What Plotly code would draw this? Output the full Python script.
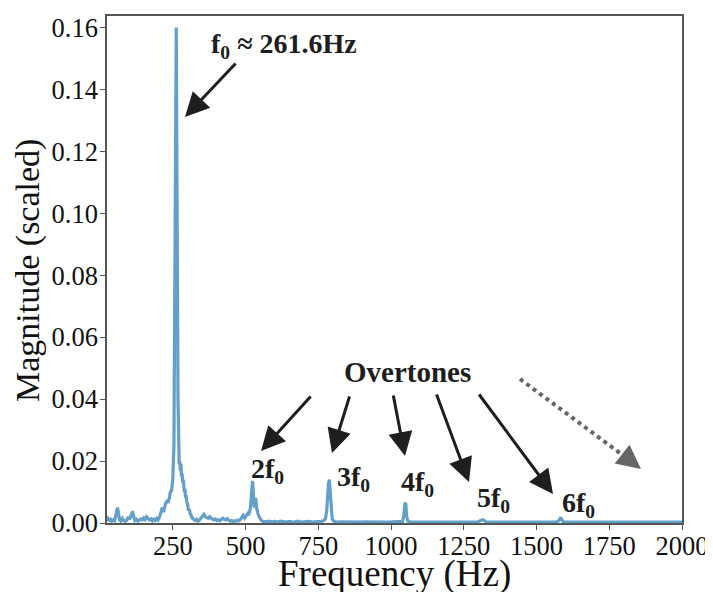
import plotly.graph_objects as go

# Spectrum (frequency in Hz, magnitude scaled)
freq_low = [24, 28, 32, 36, 40, 45, 50, 55, 60, 63, 67, 72, 77, 82, 87, 92, 97, 102, 108, 112,
            116, 120, 125, 130, 135, 140, 145, 150, 155, 160, 165, 170, 175, 180, 185, 190, 195,
            200, 205, 210, 214, 218, 222, 226, 230, 234, 238, 242, 246, 250, 254, 257, 259, 262,
            264, 266, 268, 270, 272, 274, 276, 278, 280, 282, 284, 286, 288, 290, 292, 294, 296,
            298, 301, 304, 307, 310, 314, 318, 322, 327, 332, 337, 342, 347, 352, 357, 362, 367,
            372, 377, 382, 387, 392, 397, 402, 407, 412, 417, 422, 427, 432, 437, 442, 447, 452,
            457, 462, 467, 472, 477, 482, 487, 492, 497, 502, 507, 510, 514, 517, 520, 522, 524,
            526, 528, 530, 532, 534, 536, 538, 540, 543, 547, 551, 555, 560]
mag_low = [0.0022, 0.0010, 0.0008, 0.0012, 0.0006, 0.0010, 0.0007, 0.0025, 0.0050, 0.0035,
           0.0010, 0.0006, 0.0015, 0.0008, 0.0005, 0.0009, 0.0020, 0.0012, 0.0030, 0.0038,
           0.0020, 0.0008, 0.0012, 0.0006, 0.0009, 0.0013, 0.0010, 0.0016, 0.0011, 0.0020,
           0.0015, 0.0010, 0.0013, 0.0007, 0.0012, 0.0008, 0.0015, 0.0010, 0.0020, 0.0040,
           0.0050, 0.0035, 0.0055, 0.0065, 0.0070, 0.0065, 0.0080, 0.0100, 0.0105, 0.0140,
           0.0250, 0.0600, 0.1100, 0.1600, 0.1350, 0.0800, 0.0400, 0.0250, 0.0190, 0.0200,
           0.0170, 0.0190, 0.0150, 0.0160, 0.0130, 0.0140, 0.0120, 0.0100, 0.0110, 0.0080,
           0.0090, 0.0070, 0.0060, 0.0040, 0.0045, 0.0030, 0.0020, 0.0015, 0.0012, 0.0008,
           0.0012, 0.0006, 0.0010, 0.0016, 0.0023, 0.0028, 0.0020, 0.0017, 0.0015, 0.0020,
           0.0014, 0.0012, 0.0010, 0.0013, 0.0008, 0.0010, 0.0007, 0.0011, 0.0015, 0.0012,
           0.0010, 0.0014, 0.0009, 0.0006, 0.0008, 0.0005, 0.0007, 0.0006, 0.0009, 0.0007,
           0.0011, 0.0018, 0.0025, 0.0016, 0.0022, 0.0030, 0.0025, 0.0035, 0.0050, 0.0090,
           0.0120, 0.0136, 0.0110, 0.0070, 0.0050, 0.0060, 0.0080, 0.0075, 0.0050, 0.0040,
           0.0030, 0.0020, 0.0012, 0.0008, 0.0005]

freq_high = [570, 580, 590, 600, 610, 620, 630, 640, 650, 660, 670, 680, 690, 700, 710, 720, 730,
             740, 750, 760, 770, 775, 779, 782, 785, 788, 791, 794, 798, 805, 815, 830, 850, 870,
             890, 910, 930, 950, 970, 990, 1010, 1030, 1040, 1044, 1048, 1051, 1054, 1058, 1065,
             1080, 1100, 1130, 1160, 1190, 1220, 1250, 1280, 1298, 1306, 1312, 1316, 1320, 1326,
             1340, 1370, 1400, 1430, 1460, 1490, 1520, 1550, 1570, 1577, 1581, 1584, 1587, 1592,
             1600, 1630, 1670, 1710, 1750, 1800, 1850, 1900, 1950, 2000]
mag_high = [0.0004, 0.0006, 0.0004, 0.0005, 0.0003, 0.0006, 0.0004, 0.0003, 0.0005, 0.0003,
            0.0004, 0.0006, 0.0003, 0.0004, 0.0003, 0.0005, 0.0003, 0.0004, 0.0003, 0.0005,
            0.0008, 0.0015, 0.0040, 0.0090, 0.0125, 0.0140, 0.0100, 0.0040, 0.0012, 0.0005,
            0.0003, 0.0004, 0.0003, 0.0004, 0.0003, 0.0004, 0.0003, 0.0004, 0.0003, 0.0003,
            0.0003, 0.0004, 0.0005, 0.0025, 0.0066, 0.0060, 0.0020, 0.0006, 0.0003, 0.0003,
            0.0003, 0.0003, 0.0003, 0.0003, 0.0003, 0.0003, 0.0003, 0.0004, 0.0007, 0.0010,
            0.0011, 0.0008, 0.0004, 0.0003, 0.0003, 0.0003, 0.0003, 0.0003, 0.0003, 0.0003,
            0.0003, 0.0004, 0.0008, 0.0016, 0.0018, 0.0010, 0.0004, 0.0003, 0.0003, 0.0003,
            0.0003, 0.0003, 0.0003, 0.0003, 0.0003, 0.0003, 0.0003]

frequencies = freq_low + freq_high
magnitudes = mag_low + mag_high

x_ticks = [250, 500, 750, 1000, 1250, 1500, 1750, 2000]
y_ticks = [0.00, 0.02, 0.04, 0.06, 0.08, 0.10, 0.12, 0.14, 0.16]
y_tick_labels = ["0.00", "0.02", "0.04", "0.06", "0.08", "0.10", "0.12", "0.14", "0.16"]

X0, X1 = 24, 2000
Y0, Y1 = 0.0, 0.1637

fig = go.Figure()
fig.add_trace(go.Scatter(x=frequencies, y=magnitudes, mode="lines",
                         line=dict(color="#62A0CA", width=3.2), showlegend=False))

SERIF = "Liberation Serif, Times New Roman, serif"
OFF = 8  # page body margin
W, H = 713 - OFF, 592 - OFF
# plot area in screen pixels
SL, SR, ST, SB = 107, 682, 16, 523
L, R, T, B = SL - OFF, W - (SR - OFF), ST - OFF, H - (SB - OFF)
pw, ph = SR - SL, SB - ST


def px2x(px):
    return X0 + (px - SL) / pw * (X1 - X0)


def py2y(py):
    return Y0 + (SB - py) / ph * (Y1 - Y0)


def px2paper(px):
    return (px - SL) / pw


def py2paper(py):
    return (SB - py) / ph


anns = []


def arrow(tail, head, color="#1e1e1e"):
    anns.append(dict(x=px2x(head[0]), y=py2y(head[1]), ax=px2x(tail[0]), ay=py2y(tail[1]),
                     xref="x", yref="y", axref="x", ayref="y", text="", showarrow=True,
                     arrowhead=2, arrowsize=1.6, arrowwidth=3, arrowcolor=color))


def label(txt, cx, cy, size=28):
    anns.append(dict(x=px2x(cx), y=py2y(cy), xref="x", yref="y", text="<b>" + txt + "</b>",
                     showarrow=False, font=dict(family=SERIF, size=size, color="#1e1e1e"),
                     xanchor="center", yanchor="middle"))


label("f<sub>0</sub> ≈ 261.6Hz", 284, 45, 28)
arrow((237, 62), (185, 117))
label("Overtones", 407, 372, 29)
arrow((312, 395), (261, 451))
arrow((350, 395), (332, 453))
arrow((393, 394), (405, 456))
arrow((436, 393), (469, 482))
arrow((478, 393), (553, 494))
label("2f<sub>0</sub>", 267, 470)
label("3f<sub>0</sub>", 353, 478)
label("4f<sub>0</sub>", 417, 483)
label("5f<sub>0</sub>", 493, 499)
label("6f<sub>0</sub>", 578, 504)

# axis titles as paper annotations
anns.append(dict(x=px2paper(394), y=py2paper(597), xref="paper", yref="paper",
                 text="Frequency (Hz)", showarrow=False, xanchor="center", yanchor="bottom",
                 font=dict(family=SERIF, size=37, color="#111111")))
anns.append(dict(x=px2paper(7), y=py2paper(271), xref="paper", yref="paper",
                 text="Magnitude (scaled)", showarrow=False, textangle=-90,
                 xanchor="left", yanchor="middle",
                 font=dict(family=SERIF, size=34, color="#111111")))

fig.update_layout(annotations=anns)
# dotted grey arrow: dotted shaft plus arrow head
fig.add_shape(type="line", xref="x", yref="y", x0=px2x(520), y0=py2y(379),
              x1=px2x(628), y1=py2y(459), line=dict(color="#666666", width=4, dash="dot"))
fig.add_annotation(x=px2x(641), y=py2y(469), ax=px2x(627), ay=py2y(458), xref="x", yref="y",
                   axref="x", ayref="y", text="", showarrow=True, arrowhead=2, arrowsize=1.6,
                   arrowwidth=3, arrowcolor="#666666")

axis_common = dict(showline=True, linecolor="#555555", linewidth=1.5, mirror=True,
                   ticks="outside", ticklen=5, tickwidth=1.2, tickcolor="#555555",
                   showgrid=False, zeroline=False, automargin=False,
                   tickfont=dict(family=SERIF, size=26.5, color="#111111"))

fig.update_xaxes(range=[X0, X1], tickvals=x_ticks, ticklabelstandoff=-7, **axis_common)
fig.update_yaxes(range=[Y0, Y1], tickvals=y_ticks, ticktext=y_tick_labels,
                 ticklabelstandoff=-3, **axis_common)

fig.update_layout(width=W, height=H, margin=dict(l=L, r=R, t=T, b=B, autoexpand=False),
                  plot_bgcolor="white", paper_bgcolor="white")

fig.write_html("out.html")
